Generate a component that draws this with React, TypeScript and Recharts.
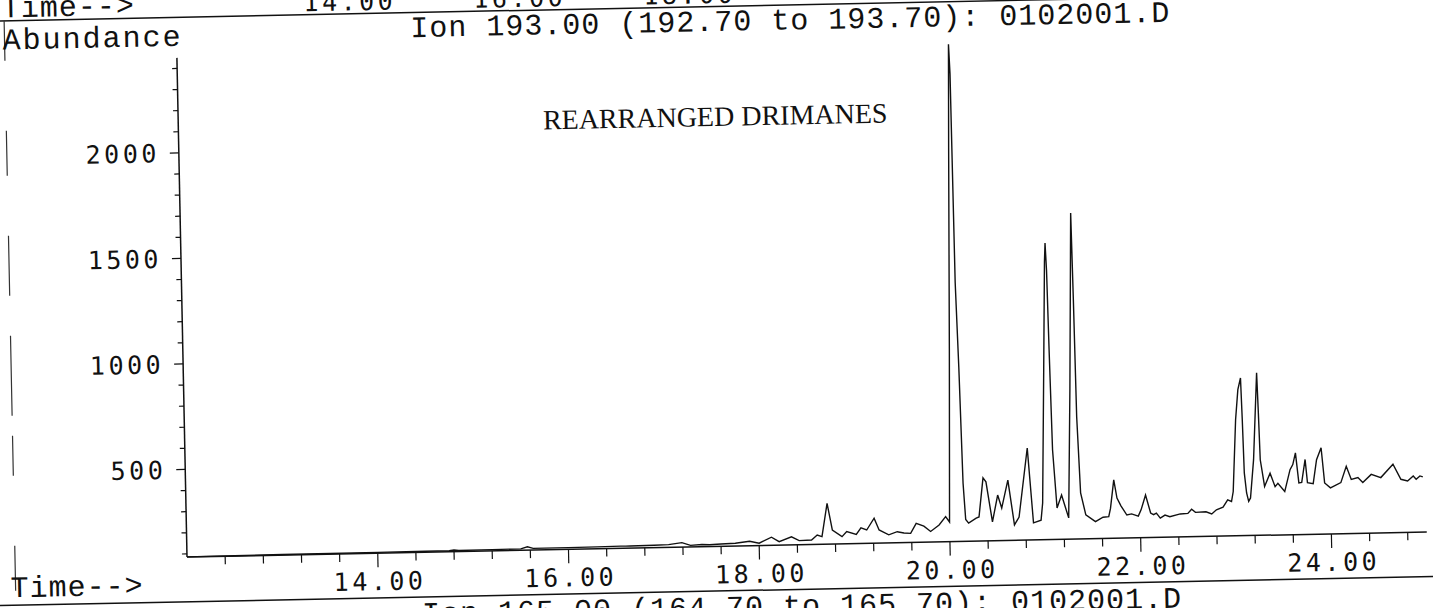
import { Line, LineChart, XAxis, YAxis } from "recharts";

// retention time (min) and abundance
const retentionTimes = [
  12.0, 12.5, 13.0, 13.5, 14.0, 14.5, 14.75, 14.8, 14.85, 15.2,
  15.5, 15.57, 15.63, 16.0, 16.3, 16.55, 16.6, 16.65, 16.9, 17.05,
  17.19, 17.28, 17.4, 17.48, 17.6, 17.75, 17.9, 18.0, 18.13, 18.21,
  18.34, 18.42, 18.55, 18.61, 18.66, 18.72, 18.77, 18.87, 18.92, 19.02,
  19.07, 19.13, 19.21, 19.26, 19.36, 19.45, 19.52, 19.59, 19.65, 19.73,
  19.8, 19.89, 19.96,
  20.0, 20.035, 20.07, 20.09, 20.1, 20.11, 20.13, 20.15, 20.17, 20.2,
  20.28, 20.31, 20.36, 20.39, 20.45, 20.51, 20.55, 20.62, 20.68, 20.73,
  20.83, 20.88, 20.96, 20.98, 21.02, 21.05, 21.06, 21.07, 21.08, 21.095,
  21.13, 21.18, 21.25, 21.29, 21.335, 21.345, 21.355, 21.38, 21.43, 21.53,
  21.61, 21.67, 21.69, 21.73, 21.76, 21.8, 21.86, 21.91, 21.98, 22.01,
  22.06, 22.11, 22.14, 22.17, 22.21, 22.26, 22.31, 22.42, 22.5, 22.54,
  22.58, 22.69, 22.75, 22.8, 22.87, 22.92, 22.96, 22.98, 23.02, 23.05,
  23.08, 23.09, 23.1, 23.12, 23.14, 23.16, 23.2, 23.25, 23.26, 23.27,
  23.31, 23.37, 23.42, 23.45, 23.52, 23.58, 23.61, 23.64, 23.67, 23.7,
  23.74, 23.76, 23.82, 23.86, 23.91, 23.94, 24.0, 24.11, 24.17, 24.22,
  24.29, 24.34, 24.43, 24.53, 24.66, 24.74, 24.81, 24.87, 24.9, 24.94,
  24.97,
];

const abundance = [
  86, 87, 88, 88, 89, 90, 90, 93, 90, 91,
  92, 101, 93, 93, 94, 95, 95, 95, 96, 98,
  106, 92, 95, 93, 96, 98, 106, 96, 123, 101,
  123, 104, 106, 129, 121, 278, 151, 119, 143, 128,
  159, 148, 203, 147, 123, 137, 130, 128, 175, 161,
  135, 165, 204,
  178, 1000, 1950, 2440, 2300, 1310, 910, 360, 188, 171,
  194, 199, 384, 365, 174, 301, 239, 371, 158, 195,
  521, 166, 178, 259, 900, 1400, 1490, 1360, 984, 510,
  234, 295, 186, 800, 1630, 1220, 663, 303, 199, 166,
  186, 188, 227, 362, 275, 238, 194, 199, 188, 217,
  287, 201, 193, 200, 176, 190, 182, 194, 196, 215,
  200, 202, 191, 210, 222, 256, 248, 295, 635, 777,
  832, 634, 382, 287, 247, 263, 444, 855, 665, 443,
  316, 378, 314, 330, 290, 393, 417, 472, 330, 332,
  440, 330, 325, 438, 494, 327, 303, 327, 404, 341,
  349, 325, 363, 347, 409, 337, 328, 351, 336, 351,
  346,
];

const yTicks = [
  100, 200, 300, 400, 500, 600, 700, 800, 900, 1000, 1100, 1200,
  1300, 1400, 1500, 1600, 1700, 1800, 1900, 2000, 2100, 2200, 2300, 2400,
];
const yLabelTicks = [500, 1000, 1500, 2000];

const xTicks = [
  12.4, 12.8, 13.2, 13.6, 14, 14.4, 14.8, 15.2, 15.6, 16, 16.4, 16.8,
  17.2, 17.6, 18, 18.4, 18.8, 19.2, 19.6, 20, 20.4, 20.8, 21.2, 21.6,
  22, 22.4, 22.8, 23.2, 23.6, 24, 24.4, 24.8,
];
const xLabelTicks = [14, 16, 18, 20, 22, 24];

// cut-off axis of the panel above, and header/footer text
const prevPanelLabels = ["14.00", "16.00", "18.00"];
const prevPanelLabelX = [356, 526, 696];
const title = "Ion 193.00 (192.70 to 193.70): 0102001.D";
const nextTitle = "Ion 165.00 (164.70 to 165.70): 0102001.D";
const annotation = "REARRANGED DRIMANES";

const chartData = retentionTimes.map((t, i) => ({ time: t, abundance: abundance[i] }));

const ink = "#111";
const monoSans = "'DejaVu Sans Mono', monospace";
const courier = "'Liberation Mono', 'Courier New', monospace";

const YTick = (props: any) => {
  const { x, y, payload } = props;
  const v = payload.value;
  const major = yLabelTicks.includes(v);
  return (
    <g>
      <line x1={x - (major ? 9 : 5)} y1={y} x2={x} y2={y} stroke={ink} strokeWidth={1.2} />
      {major ? (
        <text x={x - 19} y={y + 9} textAnchor="end" fontFamily={monoSans} fontSize={25} letterSpacing={3.5} fill={ink}>
          {v}
        </text>
      ) : null}
    </g>
  );
};

const XTick = (props: any) => {
  const { x, y, payload } = props;
  const v = payload.value;
  const major = xLabelTicks.includes(v);
  return (
    <g>
      <line x1={x} y1={y} x2={x} y2={y + (major ? 14 : 8)} stroke={ink} strokeWidth={1.2} />
      {major ? (
        <text x={x + 1.75} y={y + 37} textAnchor="middle" fontFamily={monoSans} fontSize={25} letterSpacing={3.5} fill={ink}>
          {v.toFixed(2)}
        </text>
      ) : null}
    </g>
  );
};

export default function App() {
  return (
    <div style={{ position: "fixed", left: 0, top: 0, width: 1433, height: 608, overflow: "hidden", background: "#fff" }}>
      {/* the scan is tilted a little, so the whole sheet is turned */}
      <div
        style={{
          position: "absolute",
          left: 0,
          top: 0,
          width: 1433,
          height: 608,
          transform: "rotate(-1.16deg)",
          transformOrigin: "716.5px 304px",
        }}
      >
        <LineChart width={1433} height={608} data={chartData} margin={{ top: 47, right: 11, left: 0, bottom: 21.7 }}>
          <XAxis
            dataKey="time"
            type="number"
            domain={[12, 25]}
            ticks={xTicks}
            interval={0}
            height={40}
            tickSize={0}
            tickMargin={0}
            tickLine={false}
            tick={<XTick />}
            axisLine={{ stroke: ink, strokeWidth: 1.5 }}
          />
          <YAxis
            type="number"
            domain={[85, 2450]}
            ticks={yTicks}
            interval={0}
            width={182}
            tickSize={0}
            tickMargin={0}
            tickLine={false}
            tick={<YTick />}
            axisLine={{ stroke: ink, strokeWidth: 1.5 }}
          />
          <Line
            type="linear"
            dataKey="abundance"
            stroke={ink}
            strokeWidth={1.4}
            dot={false}
            isAnimationActive={false}
          />
        </LineChart>
        <svg width={1433} height={640} style={{ position: "absolute", left: 0, top: 0, pointerEvents: "none", overflow: "visible" }}>
          <text x={8} y={3} fontFamily={courier} fontSize={30} letterSpacing={1} fill={ink}>Time--&gt;</text>
          {prevPanelLabels.map((s, i) => (
            <text key={s} x={prevPanelLabelX[i]} y={3} textAnchor="middle" fontFamily={monoSans} fontSize={25} letterSpacing={3.5} fill={ink}>
              {s}
            </text>
          ))}
          <line x1={-20} y1={6.5} x2={1460} y2={6.5} stroke={ink} strokeWidth={1.5} />
          <line x1={10} y1={6.5} x2={10} y2={591} stroke="#333" strokeWidth={1.2} strokeDasharray="40 70 45 60 60 40 80 20" />
          <text x={8} y={35} fontFamily={courier} fontSize={30} letterSpacing={2} fill={ink}>Abundance</text>
          <text x={796} y={31} textAnchor="middle" fontFamily={courier} fontSize={30} letterSpacing={1} fill={ink}>{title}</text>
          <text x={719} y={126} textAnchor="middle" fontFamily="'Liberation Serif', 'Times New Roman', serif" fontSize={28} fill={ink}>
            {annotation}
          </text>
          <text x={5} y={583} fontFamily={courier} fontSize={30} letterSpacing={1} fill={ink}>Time--&gt;</text>
          <line x1={-20} y1={591} x2={1460} y2={591} stroke={ink} strokeWidth={1.5} />
          <text x={796} y={617} textAnchor="middle" fontFamily={courier} fontSize={30} letterSpacing={1} fill={ink}>{nextTitle}</text>
        </svg>
      </div>
    </div>
  );
}
